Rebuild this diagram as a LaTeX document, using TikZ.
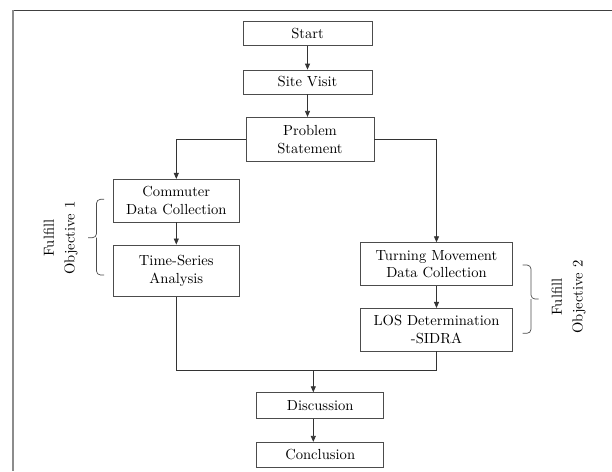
\documentclass[tikz,border=0pt]{standalone}
\usepackage{fontspec}
\setmainfont{lmroman10-regular.otf}
\usetikzlibrary{arrows.meta}
\begin{document}
\begin{tikzpicture}[x=1pt,y=-1pt,
  box/.style={draw=black!70,line width=0.8pt,align=center,inner sep=0pt,
    font=\fontsize{14.6}{17.7}\selectfont,text=black},
  conn/.style={draw=black!80,line width=0.8pt},
  arr/.style={conn,-{Triangle[length=6pt,width=5pt]}},
  bracestyle/.style={draw=black!70,line width=0.7pt,rounded corners=4pt},
  lbl/.style={rotate=90,align=center,font=\fontsize{14.6}{20.7}\selectfont,text=black}]
\useasboundingbox (0,0) rectangle (612,471);
% frame
\draw[black!75,line width=1pt] (12.7,10.3) -- (612,10.3);
\draw[black!45,line width=1.6pt] (12.7,10.3) -- (12.7,471);
% boxes
\node[box,minimum width=129pt,minimum height=24.7pt] (start) at (307.5,33.3) {Start};
\node[box,minimum width=129pt,minimum height=24pt] (site) at (307.5,82) {Site Visit};
\node[box,minimum width=128pt,minimum height=44.4pt] (prob) at (310,139.5) {Problem\\Statement};
\node[box,minimum width=126pt,minimum height=42.7pt] (comm) at (176.3,200.7) {Commuter\\Data Collection};
\node[box,minimum width=126pt,minimum height=51.7pt] (ts) at (176.3,270.8) {Time-Series\\Analysis};
\node[box,minimum width=152pt,minimum height=43pt] (turn) at (436.5,264.2) {Turning Movement\\Data Collection};
\node[box,minimum width=152pt,minimum height=42.7pt] (los) at (436.5,329.7) {LOS Determination\\-SIDRA};
\node[box,minimum width=127pt,minimum height=25.6pt] (disc) at (320.2,405.5) {Discussion};
\node[box,minimum width=127pt,minimum height=25.4pt] (conc) at (320.2,455) {Conclusion};
% connectors
\draw[arr] (start.south) -- (site.north);
\draw[arr] (site.south) -- (site.south |- prob.north);
\draw[arr] (prob.west) -| (comm.north);
\draw[arr] (prob.east) -| (turn.north);
\draw[arr] (comm.south) -- (ts.north);
\draw[arr] (turn.south) -- (los.north);
\coordinate (m) at (313.3,370.7);
\draw[conn] (ts.south) -- (ts.south |- m) -- (los.south |- m) -- (los.south);
\draw[arr] (m) -- (m |- disc.north);
\draw[arr] (m |- disc.south) -- (m |- conc.north);
% braces
\draw[bracestyle] (104,199.3) -- (96.5,199.3) -- (96.5,237.7) -- (88,237.7);
\draw[bracestyle] (104,275) -- (96.5,275) -- (96.5,237.7);
\draw[bracestyle] (522.7,265) -- (531,265) -- (531,299) -- (538.5,299);
\draw[bracestyle] (522.7,333.3) -- (531,333.3) -- (531,299);
% labels
\node[lbl] (o1) at (60.5,238) {Fulfill\\Objective 1};
\node[lbl] (o2) at (568.5,297) {Fulfill\\Objective 2};
\end{tikzpicture}
\end{document}
